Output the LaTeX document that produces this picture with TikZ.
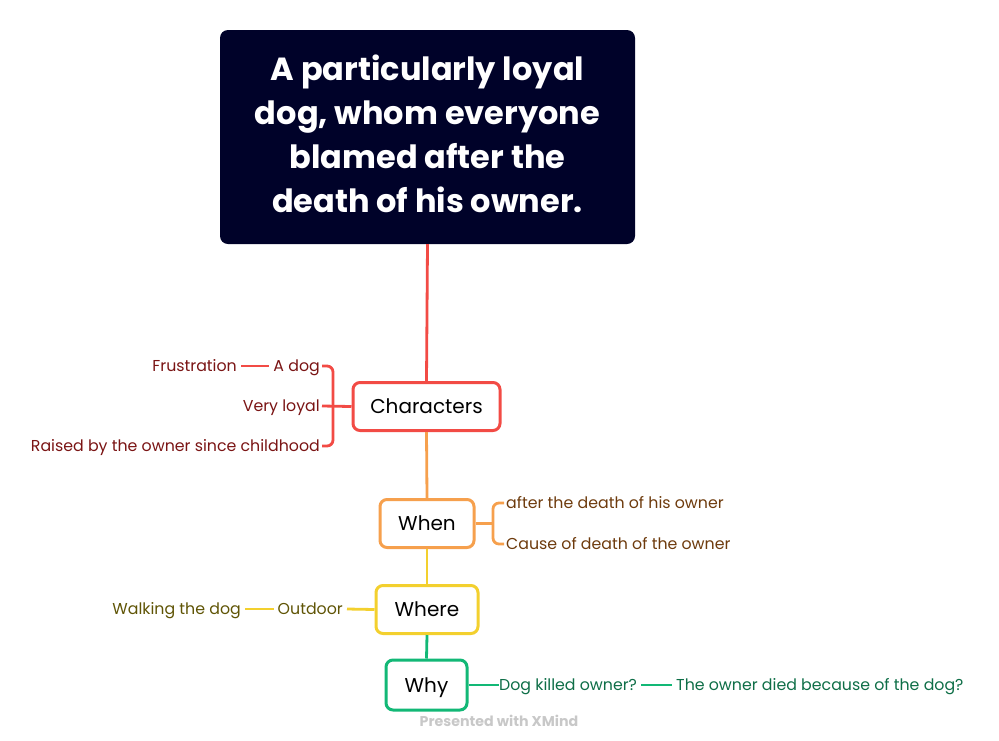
\documentclass[tikz,border=0pt]{standalone}
\usepackage{fontspec}
\setmainfont{Poppins}
\definecolor{cred}{HTML}{F24B45}
\definecolor{corange}{HTML}{F6A04D}
\definecolor{cyellow}{HTML}{F3D02E}
\definecolor{cgreen}{HTML}{12B876}
\definecolor{tred}{HTML}{7A1414}
\definecolor{tbrown}{HTML}{6E3B0D}
\definecolor{tolive}{HTML}{5F5405}
\definecolor{tgreen}{HTML}{0E6E47}
\definecolor{navy}{HTML}{000229}
\definecolor{wm}{HTML}{C8C8C8}
\begin{document}
\begin{tikzpicture}[x=1pt,y=-1pt,
  topicbox/.style={draw, line width=3pt, rounded corners=7pt, fill=white, minimum height=48pt, font=\fontsize{20}{24}\selectfont, inner sep=0pt, text height=18pt, text depth=3.5pt},
  leaf/.style={inner sep=0pt, font=\fontsize{15.8}{19}\selectfont, text height=14pt, text depth=3.5pt},
  link/.style={line width=2.8pt},
]
\useasboundingbox (0,0) rectangle (999,740);
% central topic
\node[fill=navy, rounded corners=8pt, minimum width=415pt, minimum height=214pt, inner sep=0pt,
  text=white, align=center, font=\bfseries\fontsize{32}{44}\selectfont] (root) at (427.5,137)
  {A particularly loyal\\dog, whom everyone\\blamed after the\\death of his owner.\rule[-6pt]{0pt}{1pt}};
% main topics
\node[topicbox, draw=cred, minimum width=147pt] (char) at (426.5,406.5) {Characters};
\node[topicbox, draw=corange, minimum width=94pt] (when) at (427,523.5) {When};
\node[topicbox, draw=cyellow, minimum width=102pt] (where) at (427,609.5) {Where};
\node[topicbox, draw=cgreen, minimum width=81pt, minimum height=50pt] (why) at (426.5,685) {Why};
% trunk
\draw[link, cred] (root.south) -- (char.north);
\draw[link, corange] (char.south) -- (when.north);
\draw[link, cyellow] (when.south) -- (where.north);
\draw[link, cgreen] (where.south) -- (why.north);
% Characters children
\node[leaf, text=tred, anchor=east] (adog) at (320,366) {A dog};
\node[leaf, text=tred, anchor=east] (loyal) at (320,406) {Very loyal};
\node[leaf, text=tred, anchor=east] (raised) at (320,446) {Raised by the owner since childhood};
\node[leaf, text=tred, anchor=east] (frus) at (237,366) {Frustration};
\draw[link, cred, rounded corners=6pt] (adog.east) ++(2,0) -| (333,446) -- ([xshift=2pt]raised.east);
\draw[link, cred] ([xshift=2pt]loyal.east) -- (char.west);
\draw[link, cred] ([xshift=4pt]frus.east) -- ([xshift=-4pt]adog.west);
% When children
\node[leaf, text=tbrown, anchor=west] (after) at (506,503) {after the death of his owner};
\node[leaf, text=tbrown, anchor=west] (cause) at (506,544) {Cause of death of the owner};
\draw[link, corange] (when.east) -- (493,523.5);
\draw[link, corange, rounded corners=6pt] ([xshift=-2pt]after.west) -| (493,544) -- ([xshift=-2pt]cause.west);
% Where children
\node[leaf, text=tolive, anchor=east] (outdoor) at (343,609) {Outdoor};
\node[leaf, text=tolive, anchor=east] (walk) at (241,609) {Walking the dog};
\draw[link, cyellow] ([xshift=4pt]outdoor.east) -- (where.west);
\draw[link, cyellow] ([xshift=4pt]walk.east) -- ([xshift=-4pt]outdoor.west);
% Why children
\node[leaf, text=tgreen, anchor=west] (killed) at (499,685) {Dog killed owner?};
\node[leaf, text=tgreen, anchor=west] (died) at (676,685) {The owner died because of the dog?};
\draw[link, cgreen] (why.east) -- (killed.west);
\draw[link, cgreen] ([xshift=4pt]killed.east) -- ([xshift=-4pt]died.west);
% watermark
\node[inner sep=0pt, text=wm, font=\bfseries\fontsize{14.2}{16}\selectfont] (wmark) at (499,721) {Presented with XMind};
\end{tikzpicture}
\end{document}
